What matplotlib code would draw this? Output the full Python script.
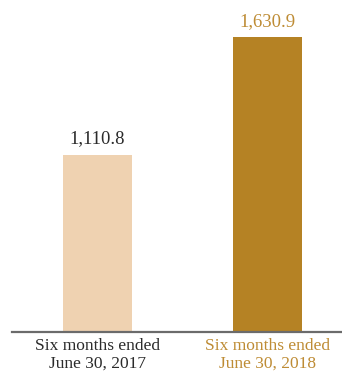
import matplotlib
matplotlib.use("Agg")
import matplotlib.pyplot as plt

categories = ["Six months ended\nJune 30, 2017", "Six months ended\nJune 30, 2018"]
values = [1110.8, 1630.9]
value_labels = ["1,110.8", "1,630.9"]
bar_colors = ["#EFD2B1", "#B58224"]
text_colors = ["#2b2b2b", "#BE8C35"]

plt.rcParams["font.family"] = ["Liberation Serif", "DejaVu Serif"]

fig = plt.figure(figsize=(3.42, 3.74), dpi=100)
ax = fig.add_axes([12 / 342, 42 / 374, 330 / 342, 332 / 374])

x = list(range(len(values)))
ax.bar(x, values, width=0.406, color=bar_colors, zorder=2)

ax.set_xlim(-0.503, 1.438)
ax.set_ylim(330, 1795.6)

for xi, v, lab, c in zip(x, values, value_labels, text_colors):
    ax.annotate(lab, (xi, v), xytext=(0, 5.5), textcoords="offset points",
                ha="center", va="bottom", fontsize=13.5, color=c)

for xi, cat, c in zip(x, categories, text_colors):
    ax.annotate(cat, (xi, 0), xycoords=("data", "axes fraction"),
                xytext=(0, -4.5), textcoords="offset points",
                ha="center", va="top", fontsize=12.5, color=c,
                linespacing=1.14)

for s in ["top", "right", "left"]:
    ax.spines[s].set_visible(False)
ax.spines["bottom"].set_color("#6b6b6b")
ax.spines["bottom"].set_linewidth(1.6)
ax.set_xticks([])
ax.set_yticks([])

fig.savefig("out.png", dpi=100)
